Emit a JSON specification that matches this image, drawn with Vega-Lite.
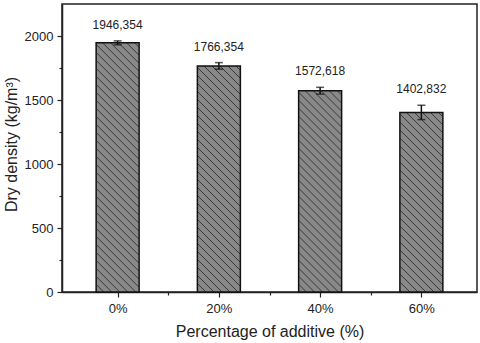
{
  "$schema": "https://vega.github.io/schema/vega-lite/v6.json",
  "width": 415,
  "height": 288,
  "autosize": {"type": "none"},
  "padding": {"left": 62, "top": 4, "right": 3, "bottom": 51},
  "background": "white",
  "config": {
    "font": "Liberation Sans",
    "view": {"stroke": "#222", "strokeWidth": 1.5},
    "axis": {
      "domainColor": "#222", "domainWidth": 1.5, "tickColor": "#222", "tickWidth": 1.2,
      "labelColor": "#222", "titleColor": "#222", "grid": false,
      "labelFont": "Liberation Sans", "titleFont": "Liberation Sans", "titleFontWeight": "normal"
    }
  },
  "data": {
    "values": [
      {"pct": 0, "value": 1946.354, "lower": 1931, "upper": 1962, "label": "1946,354"},
      {"pct": 20, "value": 1766.354, "lower": 1741, "upper": 1792, "label": "1766,354"},
      {"pct": 40, "value": 1572.618, "lower": 1546, "upper": 1599, "label": "1572,618"},
      {"pct": 60, "value": 1402.832, "lower": 1347, "upper": 1459, "label": "1402,832"}
    ]
  },
  "encoding": {
    "x": {
      "field": "pct", "type": "quantitative",
      "scale": {"domain": [-10, 70], "nice": false, "zero": false},
      "axis": {
        "title": "Percentage of additive (%)", "titleFontSize": 16, "titlePadding": 8,
        "values": [0, 10, 20, 30, 40, 50, 60],
        "labelExpr": "datum.value % 20 == 0 ? datum.value + '%' : ''",
        "labelFontSize": 13, "labelPadding": 5,
        "tickSize": {"condition": {"test": "datum.value % 20 == 0", "value": 5}, "value": 3}
      }
    },
    "y": {
      "field": "value", "type": "quantitative",
      "scale": {"domain": [0, 2250], "nice": false},
      "axis": {
        "title": "Dry density (kg/m³)", "titleFontSize": 16, "titlePadding": 5, "titleY": 140,
        "values": [0, 250, 500, 750, 1000, 1250, 1500, 1750, 2000],
        "labelExpr": "datum.value % 500 == 0 ? datum.value : ''",
        "labelFontSize": 13, "labelPadding": 4,
        "tickSize": {"condition": {"test": "datum.value % 500 == 0", "value": 5}, "value": 3}
      }
    }
  },
  "layer": [
    {"mark": {"type": "bar", "size": 43, "color": "#898989", "strokeWidth": 0}},
    {
      "mark": {
        "type": "point", "clip": true, "filled": false, "size": 4, "opacity": 1,
        "stroke": "#383838", "strokeWidth": 1, "strokeCap": "butt",
        "shape": "M17,0L21,4M9,0L21,12M1,0L21,20M-7,0L21,28M-15,0L21,36M-21,2L21,44M-21,10L21,52M-21,18L21,60M-21,26L21,68M-21,34L21,76M-21,42L21,84M-21,50L21,92M-21,58L21,100M-21,66L21,108M-21,74L21,116M-21,82L21,124M-21,90L21,132M-21,98L21,140M-21,106L21,148M-21,114L21,156M-21,122L21,164M-21,130L21,172M-21,138L21,180M-21,146L21,188M-21,154L21,196M-21,162L21,204M-21,170L21,212M-21,178L21,220M-21,186L21,228M-21,194L21,236M-21,202L21,244M-21,210L21,252M-21,218L21,260M-21,226L13,260M-21,234L5,260M-21,242L-3,260M-21,250L-11,260M-21,258L-19,260"
      }
    },
    {"mark": {"type": "bar", "size": 43, "fill": null, "fillOpacity": 0, "stroke": "#111", "strokeWidth": 1.5}},
    {
      "mark": {"type": "errorbar", "ticks": {"size": 8, "color": "#111", "thickness": 1.5}, "rule": {"color": "#111", "strokeWidth": 1.5}},
      "encoding": {
        "y": {"field": "lower", "type": "quantitative"},
        "y2": {"field": "upper"}
      }
    },
    {
      "mark": {"type": "text", "fontSize": 12, "color": "#222", "baseline": "middle", "dy": -16},
      "encoding": {
        "y": {"field": "upper", "type": "quantitative"},
        "text": {"field": "label"}
      }
    }
  ]
}
